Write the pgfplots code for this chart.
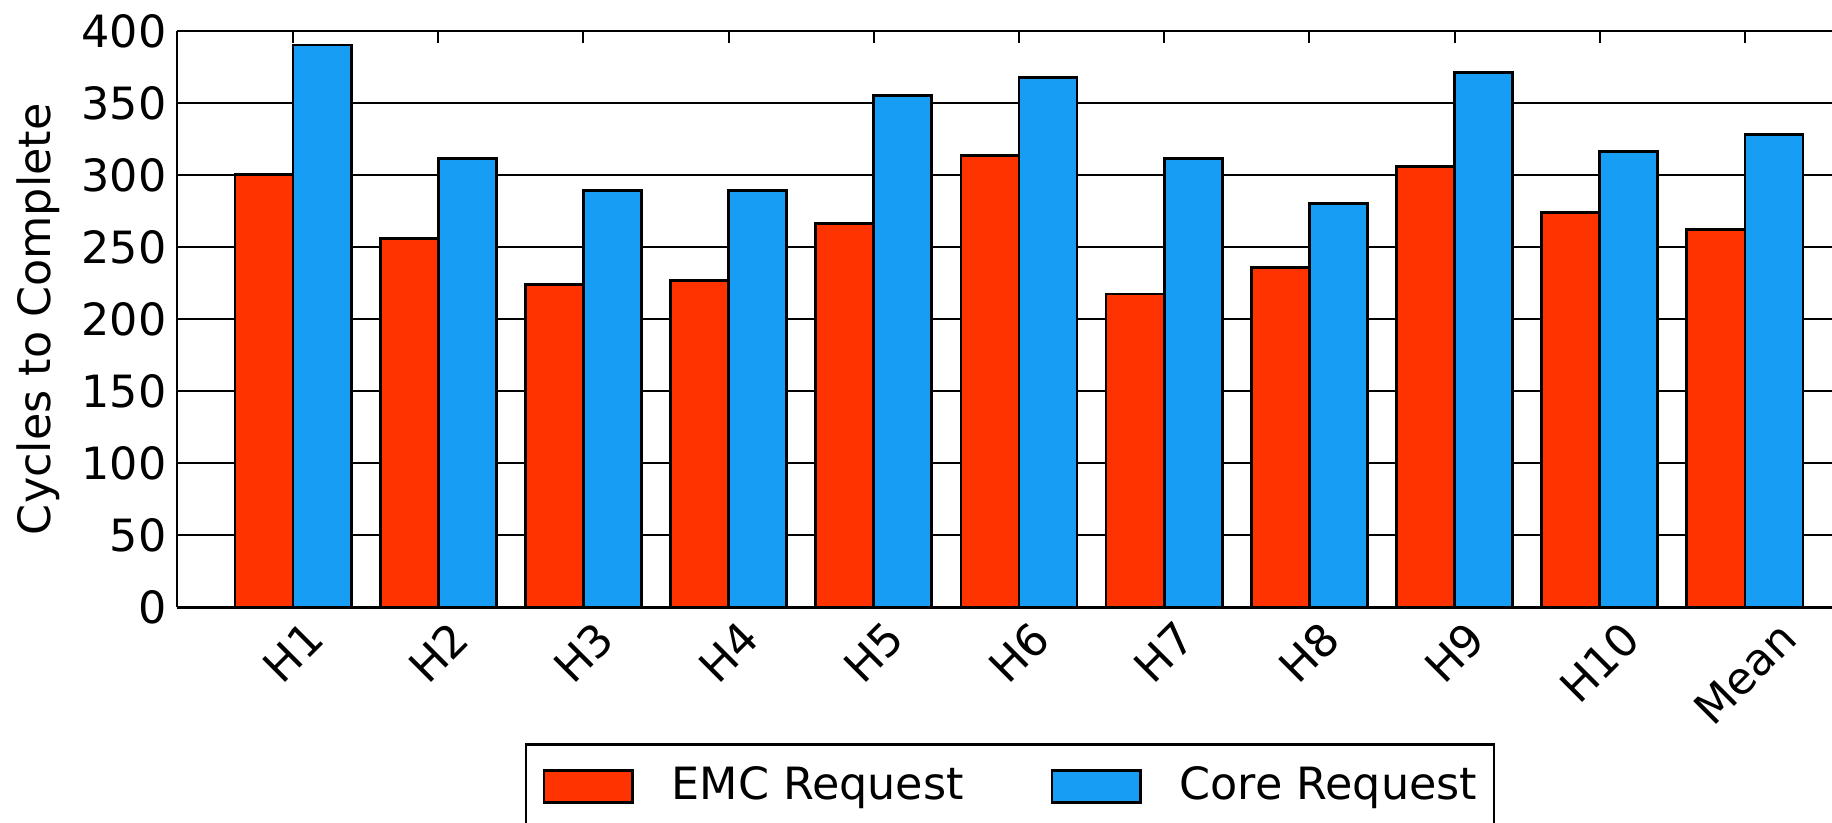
\documentclass[border=0pt]{standalone}
\usepackage{pgfplots}
\pgfplotsset{compat=1.18}
\usepackage{fontspec}
\setmainfont{DejaVu Sans}
\definecolor{emc}{RGB}{255,51,0}
\definecolor{core}{RGB}{24,157,245}
\newcommand{\fs}{\fontsize{16pt}{19pt}\selectfont}
\begin{document}
\fs
\begin{tikzpicture}
\begin{axis}[
  name=ax,
  scale only axis, width=595.8pt, height=207.4pt,
  xmin=-0.8, xmax=10.6, ymin=0, ymax=400,
  axis y line*=left,
  ybar, bar width=0.4,
  xtick={0,...,10},
  xticklabels={\rotatebox{45}{H1},\rotatebox{45}{H2},\rotatebox{45}{H3},\rotatebox{45}{H4},\rotatebox{45}{H5},\rotatebox{45}{H6},\rotatebox{45}{H7},\rotatebox{45}{H8},\rotatebox{45}{H9},\rotatebox{45}{H10},\rotatebox{45}{Mean}},
  ytick={0,50,...,400},
  tick align=inside,
  major tick length=4.4pt,
  tick style={black, line width=0.7pt},
  axis line style={black, line width=1pt},
  ymajorgrids, major grid style={black, line width=0.6pt},
  /pgf/number format/assume math mode=true,
  every tick label/.append style={font=\fs},
  yticklabel style={anchor=east, inner sep=0pt, xshift=-3.6pt},
  xticklabel style={anchor=north, inner sep=0pt, yshift=-4pt},
  ylabel={Cycles to Complete},
  every axis y label/.style={at={(rel axis cs:-0.0839,0.5)}, rotate=90, anchor=center, font=\fs},
  legend columns=2,
  legend cell align=left,
  legend image code/.code={\draw[#1,draw=black,line width=1pt] (0pt,-5.75pt) rectangle (32pt,5.75pt);},
  legend style={at={(rel axis cs:0.5033,0)}, anchor=north, yshift=-49pt,
    draw=black, line width=1pt, inner xsep=6pt, inner ysep=7.8pt, font=\fs,
    /tikz/every odd column/.append style={column sep=13.5pt},
    /tikz/every even column/.append style={column sep=31.2pt},
    nodes={inner sep=0pt, anchor=west}},
]
\addplot[fill=emc, draw=black, line width=1pt, bar shift=-0.2] coordinates {
 (0,300.4) (1,255.8) (2,224.1) (3,226.8) (4,266.2) (5,313.6) (6,217.5) (7,236.1) (8,306.2) (9,274.0) (10,262.0)};
\addlegendentry{EMC Request}
\addplot[fill=core, draw=black, line width=1pt, bar shift=0.2] coordinates {
 (0,390.3) (1,311.5) (2,289.3) (3,289.2) (4,355.1) (5,367.8) (6,311.4) (7,280.3) (8,371.4) (9,316.2) (10,328.4)};
\addlegendentry{Core Request}
\end{axis}
\pgfresetboundingbox
\path[use as bounding box] ([xshift=-63.7pt,yshift=-77.4pt]ax.south west) rectangle ([yshift=11.2pt]ax.north east);
\end{tikzpicture}
\end{document}
